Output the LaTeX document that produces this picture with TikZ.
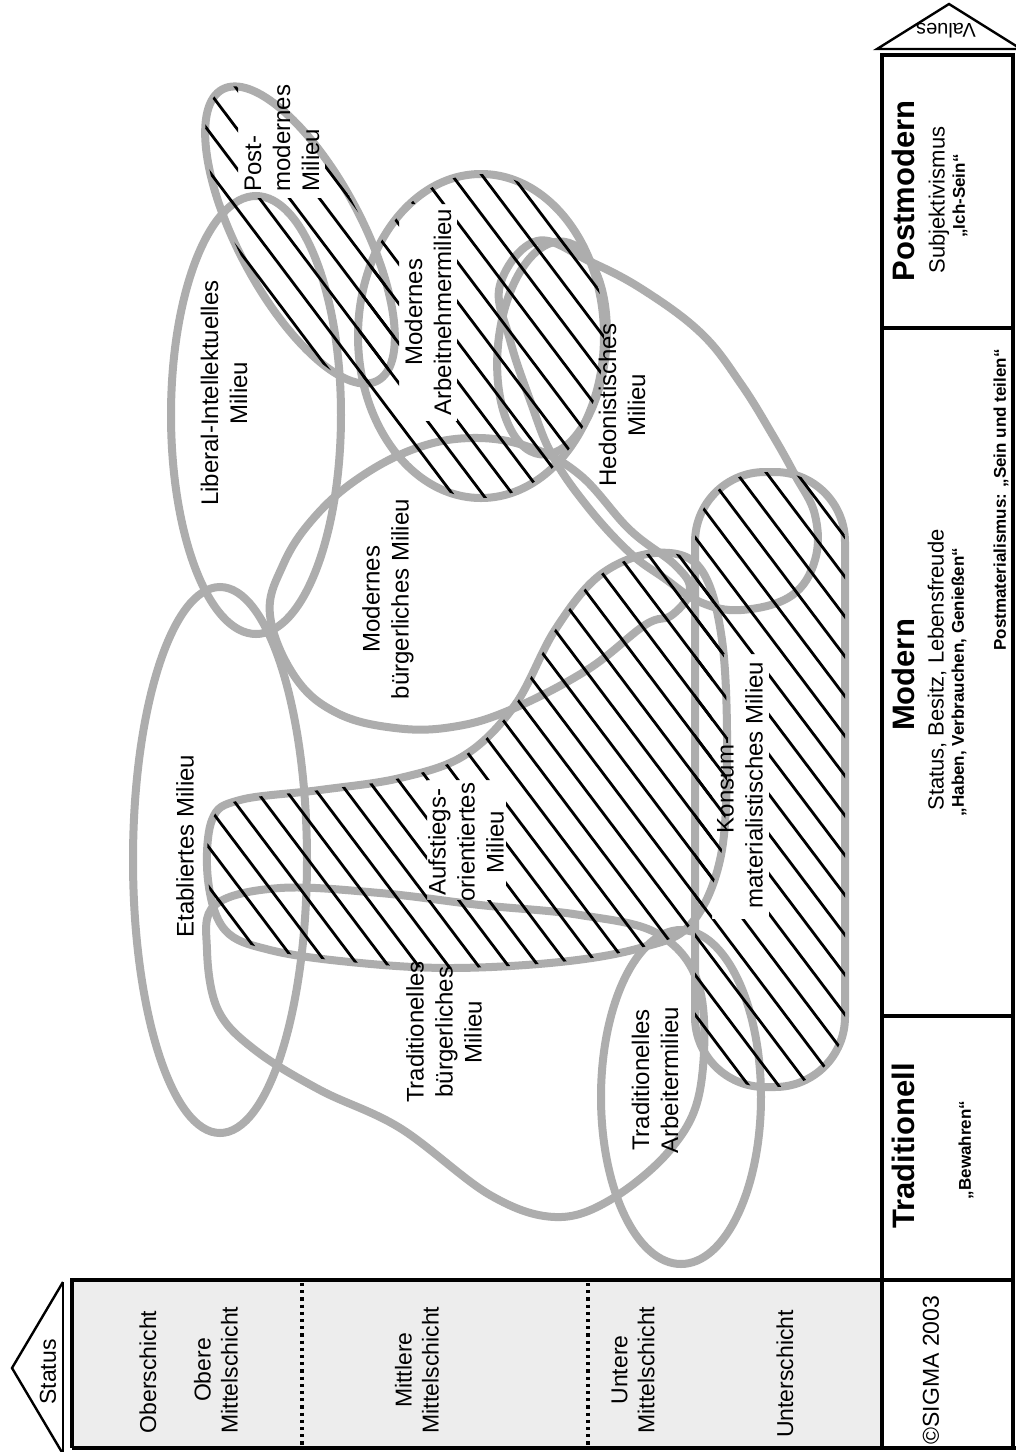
\documentclass[tikz,border=0pt]{standalone}
\usepackage{fontspec}
\setmainfont{Liberation Sans}
\usetikzlibrary{calc}
\tikzset{
  milieu/.style={draw=black!32, line width=4pt},
  hatchline/.style={draw=black, line width=1.4pt},
  frame/.style={draw=black, line width=1.6pt},
  lbl/.style={rotate=90, align=center, font=\fontsize{12}{14.5}\selectfont, inner sep=0pt},
  slbl/.style={rotate=90, align=center, font=\fontsize{11.5}{13.5}\selectfont, inner sep=0pt},
  vtitle/.style={rotate=90, font=\fontsize{15.5}{18}\selectfont\bfseries, inner sep=0pt},
  vsub/.style={rotate=90, font=\fontsize{11}{13}\selectfont, inner sep=0pt},
  vsmall/.style={rotate=90, font=\fontsize{8.5}{10}\selectfont\bfseries, inner sep=0pt},
}
\newcommand{\hatchlines}{%
  \foreach \s in {-1300,-1270,...,1100} {\draw[hatchline] (\s-151,-200) -- (\s+1282,1700);}}
\newcommand{\knockout}[4]{\clip (-100,-100) rectangle (1200,1600) (#1,#2) rectangle (#3,#4);}
\begin{document}
\begin{tikzpicture}[x=0.5pt, y=-0.5pt]
\clip (0,0) rectangle (1016,1452);
\fill[white] (0,0) rectangle (1016,1452);

% ---------- milieu outlines ----------
% Post-modernes
\draw[milieu, rotate around={-62:(300,235)}] (300,235) ellipse [x radius=165, y radius=62];
% Liberal-Intellektuelles
\draw[milieu] (256,415) ellipse [x radius=85, y radius=219];
% Modernes Arbeitnehmermilieu
\draw[milieu] (481,336) ellipse [x radius=123, y radius=162];
% Hedonistisches
\draw[milieu] plot[smooth cycle, tension=0.65] coordinates {(537,241) (591,262) (645,291) (702,334) (741,384) (772,434) (795,475) (815,515) (815,560) (791,596) (741,610) (700,602) (664,578) (629,552) (587,506) (552,455) (530,400) (510,340) (500,285)};
\draw[milieu, rotate around={-6:(552,348)}] (552,348) ellipse [x radius=54, y radius=107];
% Modernes buergerliches
\draw[milieu] plot[smooth cycle, tension=0.65] coordinates {(270,615) (283,565) (312,520) (356,480) (414,449) (472,438) (529,447) (580,475) (630,530) (675,565) (690,590) (672,615) (645,625) (587,670) (510,710) (452,727) (395,728) (337,713) (295,677)};
% Etabliertes
\draw[milieu] (220,860) ellipse [x radius=87, y radius=273];
% Aufstiegsorientiertes
\draw[milieu] plot[smooth cycle, tension=0.6] coordinates {(212,820) (240,800) (320,790) (400,778) (465,755) (515,705) (555,630) (600,575) (655,553) (700,568) (722,640) (727,760) (720,860) (690,925) (640,948) (560,962) (450,968) (350,962) (270,950) (225,930) (208,880)};
% Traditionelles buergerliches
\draw[milieu] plot[smooth cycle, tension=0.6] coordinates {(215,905) (280,888) (380,893) (480,905) (580,915) (660,935) (700,990) (700,1090) (670,1150) (610,1200) (555,1217) (490,1195) (400,1128) (320,1090) (255,1050) (218,1010) (207,950)};
% Traditionelles Arbeitermilieu
\draw[milieu] (681,1097) ellipse [x radius=80, y radius=167];
% Konsum-materialistisches
\draw[milieu, rounded corners=35pt] (695,472) rectangle (845,1087);

% ---------- hatching ----------
\begin{scope}[even odd rule]
  \clip[rotate around={-62:(300,235)}] (300,235) ellipse [x radius=165, y radius=62];
  \knockout{238}{78}{325}{198}
  \hatchlines
\end{scope}
\begin{scope}[even odd rule]
  \clip (481,336) ellipse [x radius=123, y radius=162];
  \knockout{399}{204}{457}{421}
  \hatchlines
\end{scope}
\begin{scope}[even odd rule]
  \clip plot[smooth cycle, tension=0.6] coordinates {(212,820) (240,800) (320,790) (400,778) (465,755) (515,705) (555,630) (600,575) (655,553) (700,568) (722,640) (727,760) (720,860) (690,925) (640,948) (560,962) (450,968) (350,962) (270,950) (225,930) (208,880)};
  \knockout{427}{780}{506}{900}
  \hatchlines
\end{scope}
\begin{scope}[even odd rule]
  \clip[rounded corners=35pt] (695,472) rectangle (845,1087);
  \knockout{712}{654}{769}{919}
  \hatchlines
\end{scope}

% ---------- milieu labels ----------
\node[lbl, align=left] (postmod) at (282,138) {Post-\\modernes\\Milieu};
\node[lbl] (liberal) at (224,393) {Liberal-Intellektuelles\\Milieu};
\node[lbl] (arbeitn) at (428,312) {Modernes\\Arbeitnehmermilieu};
\node[lbl] (hedon) at (622,405) {Hedonistisches\\Milieu};
\node[lbl] (modbuerg) at (388,599) {Modernes\\bürgerliches Milieu};
\node[lbl] (etabl) at (185,846) {Etabliertes Milieu};
\node[lbl] (aufst) at (466,842) {Aufstiegs-\\orientiertes\\Milieu};
\node[lbl] (tradbuerg) at (444,1032) {Traditionelles\\bürgerliches\\Milieu};
\node[lbl] (tradarb) at (655,1080) {Traditionelles\\Arbeitermilieu};
\node[lbl] (konsum) at (740,785) {Konsum-\\materialistisches Milieu};

% ---------- status strip (bottom) ----------
\fill[black!7] (72,1280) rectangle (882,1448);
\draw[frame] (72,1448) -- (72,1280) -- (882,1280);
\draw[frame] (72,1448) -- (1016,1448);
\draw[black, line width=1.6pt, dotted] (302,1283) -- (302,1446);
\draw[black, line width=1.6pt, dotted] (588,1283) -- (588,1446);
\draw[black, line width=1.2pt] (63,1282) -- (12,1368) -- (63,1454);
\draw[black, line width=1.2pt] (63,1282) -- (63,1454);
\node[slbl] (status) at (48,1372) {Status};
\node[slbl] (ober) at (148,1372) {Oberschicht};
\node[slbl] (oberemit) at (216,1370) {Obere\\Mittelschicht};
\node[slbl] (mittlere) at (417,1370) {Mittlere\\Mittelschicht};
\node[slbl] (untere) at (633,1370) {Untere\\Mittelschicht};
\node[slbl] (unter) at (785,1374) {Unterschicht};
\node[slbl] (sigma) at (931,1370) {©SIGMA 2003};

% ---------- values column (right) ----------
\draw[frame] (882,1448) -- (882,55) -- (1013,55) -- (1013,1448);
\draw[frame] (882,328) -- (1013,328);
\draw[frame] (882,1016) -- (1013,1016);
\draw[frame] (882,1280) -- (1013,1280);
\draw[black, line width=1.2pt] (877,49) -- (949,4) -- (1021,49) -- cycle;
\node[rotate=180, font=\fontsize{10}{12}\selectfont, inner sep=0pt] (values) at (946,31) {Values};
\node[vtitle] (postmodern) at (903,191) {Postmodern};
\node[vsub] (subj) at (939,200) {Subjektivismus};
\node[vsmall] (ichsein) at (960,196) {„Ich-Sein“};
\node[vtitle] (modern) at (903,675) {Modern};
\node[vsub] (statusb) at (937,670) {Status, Besitz, Lebensfreude};
\node[vsmall] (haben) at (959,682) {„Haben, Verbrauchen, Genießen“};
\node[vsmall] (postmat) at (1001,500) {Postmaterialismus: „Sein und teilen“};
\node[vtitle] (tradit) at (903,1146) {Traditionell};
\node[vsmall] (bewahren) at (966,1150) {„Bewahren“};
\end{tikzpicture}
\end{document}
